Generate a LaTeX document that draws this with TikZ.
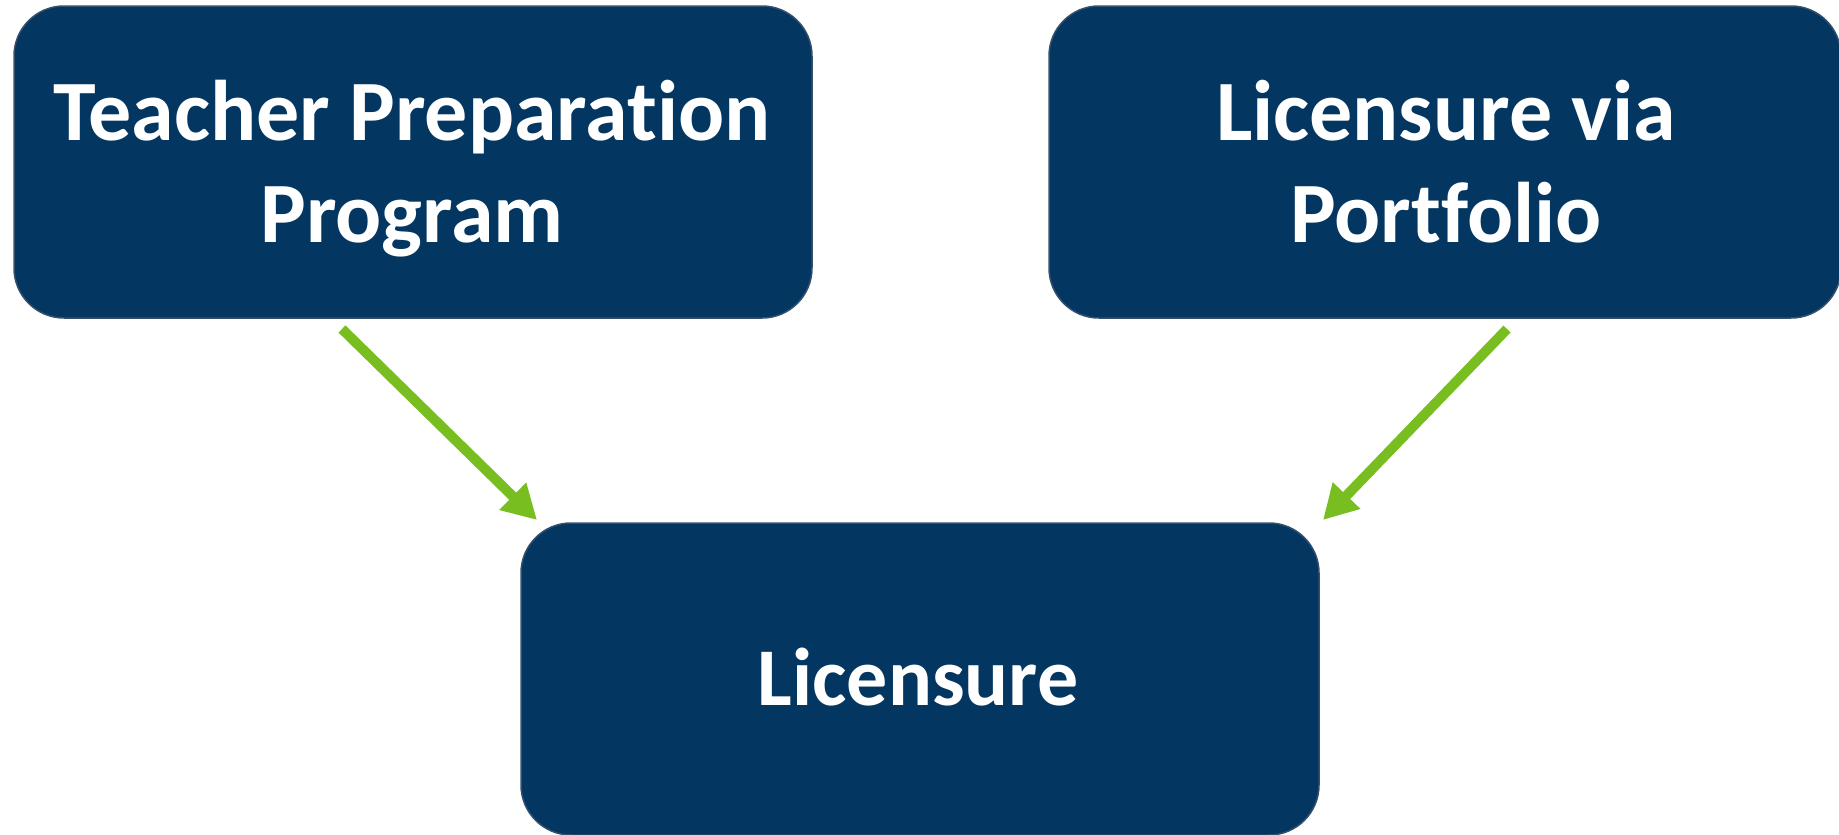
\documentclass[tikz,border=0pt]{standalone}
\usepackage{fontspec}
\setmainfont{Carlito}[Ligatures=NoCommon]
\usetikzlibrary{arrows.meta}
\definecolor{boxblue}{HTML}{033660}
\definecolor{boxedge}{HTML}{34506C}
\definecolor{arrowgreen}{HTML}{78BE20}
\begin{document}
\begin{tikzpicture}[x=1pt,y=-1pt,
  stagebox/.style={draw=boxedge, line width=1.5pt, fill=boxblue,
    rounded corners=50pt, inner sep=0pt},
  stagetext/.style={text=white, align=center, inner sep=0pt,
    font=\fontsize{86}{102}\selectfont\bfseries},
  flow/.style={draw=arrowgreen, line width=10pt,
    -{Triangle[width=36pt,length=34pt]}}]
  \useasboundingbox (0,0) rectangle (1839,835);
  % boxes
  \node[stagebox, minimum width=798pt, minimum height=312pt] (prep) at (413,162) {};
  \node[stagebox, minimum width=792pt, minimum height=312pt] (port) at (1445,162) {};
  \node[stagebox, minimum width=798pt, minimum height=312pt] (lic) at (920,679) {};
  % labels (struts keep the line boxes the same height)
  \node[stagetext] (preptext) at (412,170.6) {\strut Teacher Preparation\\\strut Program};
  \node[stagetext] (porttext) at (1446,170.6) {\strut Licensure via\\\strut Portfolio};
  \node[stagetext, font=\fontsize{82}{98}\selectfont\bfseries] (lictext) at (918,685.4) {\strut Licensure};
  % connectors
  \coordinate (prepout) at (342,329);
  \coordinate (licinL) at (537,520);
  \coordinate (portout) at (1507,329);
  \coordinate (licinR) at (1323,520);
  \draw[flow] (prepout) -- (licinL);
  \draw[flow] (portout) -- (licinR);
\end{tikzpicture}
\end{document}
